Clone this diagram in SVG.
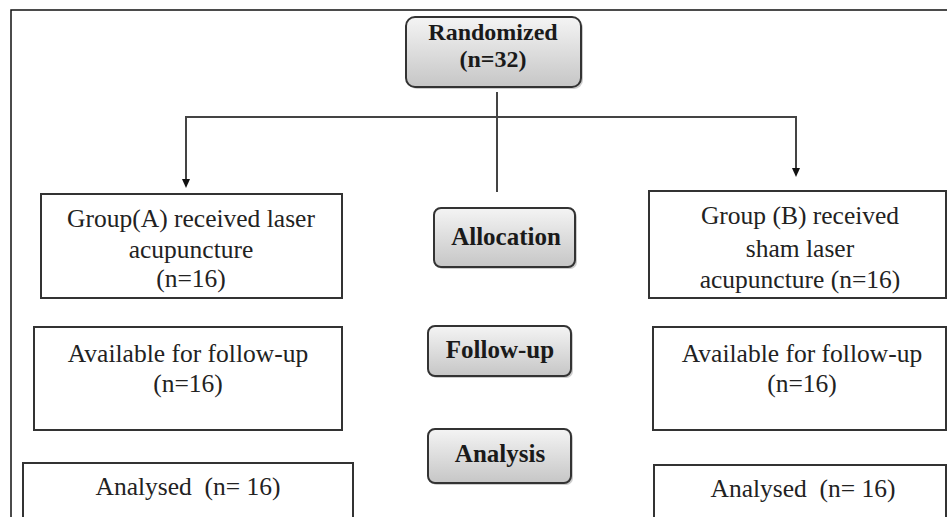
<svg xmlns="http://www.w3.org/2000/svg" width="947" height="517" viewBox="0 0 947 517">
<style>
text{font-family:"Liberation Serif","Times New Roman",serif}
.txt{font-size:25.5px;fill:#222;text-anchor:middle}
.b{font-weight:bold;fill:#1a1a1a;font-size:25px}
.r{font-size:24px}
.pre{white-space:pre}
.box{fill:#fff;stroke:#333;stroke-width:2}
.stage{fill:url(#g);stroke:#333;stroke-width:2}
.shadow{fill:#999;opacity:0.5}
.conn{fill:none;stroke:#444;stroke-width:2}
.frame{fill:none;stroke:#111;stroke-width:1.5}
</style>
<defs>
<linearGradient id="g" x1="0" y1="0" x2="0" y2="1">
<stop offset="0" stop-color="#f4f4f4"/>
<stop offset="1" stop-color="#c6c6c6"/>
</linearGradient>
</defs>
<polyline class="frame" points="11,517 11,10 947,10"/>
<g id="connectors">
<line class="conn" x1="497" y1="92" x2="497" y2="192"/>
<polyline class="conn" points="186,179 186,117 796,117 796,168"/>
<path d="M182,179 L190,179 L186,188 Z" fill="#111"/>
<path d="M792,168 L800,168 L796,177 Z" fill="#111"/>
</g>
<g id="randomized">
<rect class="shadow" x="408" y="19" width="175" height="70" rx="9"/>
<rect class="stage" x="406" y="17" width="175" height="70" rx="9"/>
<text class="txt b r" x="493" y="40">Randomized</text>
<text class="txt b r" x="493" y="67">(n=32)</text>
</g>
<g id="groupA">
<rect class="box" x="41" y="194" width="301" height="104"/>
<text class="txt" x="191" y="227">Group(A) received laser</text>
<text class="txt" x="191" y="258">acupuncture</text>
<text class="txt" x="191" y="287">(n=16)</text>
</g>
<g id="groupB">
<rect class="box" x="649" y="191" width="297" height="107"/>
<text class="txt" x="800" y="224">Group (B) received</text>
<text class="txt" x="800" y="257">sham laser</text>
<text class="txt" x="800" y="288">acupuncture (n=16)</text>
</g>
<g id="allocation">
<rect class="shadow" x="436" y="210" width="141" height="59" rx="7"/>
<rect class="stage" x="434" y="208" width="141" height="59" rx="7"/>
<text class="txt b" x="506" y="245">Allocation</text>
</g>
<g id="followup">
<rect class="shadow" x="430" y="328" width="143" height="50" rx="7"/>
<rect class="stage" x="428" y="326" width="143" height="50" rx="7"/>
<text class="txt b" x="500" y="358">Follow-up</text>
</g>
<g id="analysis">
<rect class="shadow" x="430" y="431" width="143" height="54" rx="7"/>
<rect class="stage" x="428" y="429" width="143" height="54" rx="7"/>
<text class="txt b" x="500" y="462">Analysis</text>
</g>
<g id="availA">
<rect class="box" x="34" y="327" width="308" height="103"/>
<text class="txt" x="188" y="362">Available for follow-up</text>
<text class="txt" x="188" y="392">(n=16)</text>
</g>
<g id="availB">
<rect class="box" x="653" y="327" width="293" height="103"/>
<text class="txt" x="802" y="362">Available for follow-up</text>
<text class="txt" x="802" y="392">(n=16)</text>
</g>
<g id="analysedA">
<rect class="box" x="23" y="463" width="330" height="70"/>
<text class="txt pre" x="188" y="495">Analysed  (n= 16)</text>
</g>
<g id="analysedB">
<rect class="box" x="654" y="465" width="292" height="70"/>
<text class="txt pre" x="803" y="497">Analysed  (n= 16)</text>
</g>
</svg>
